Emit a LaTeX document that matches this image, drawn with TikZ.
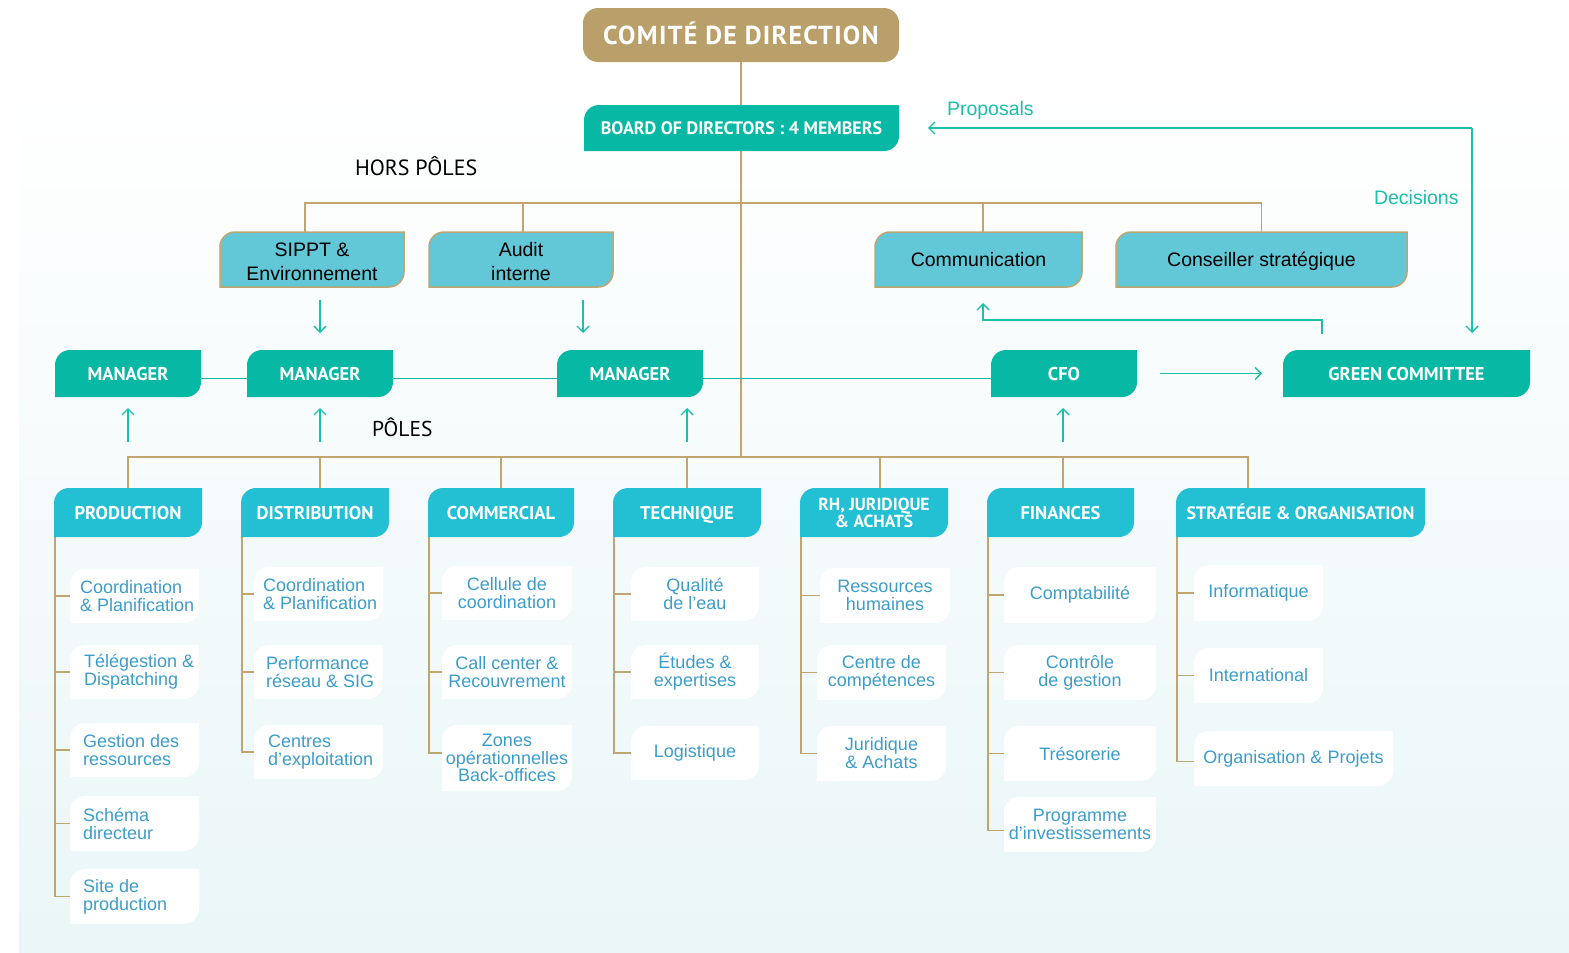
\documentclass[tikz,border=0pt]{standalone}
\usepackage{fontspec}
\setmainfont{Liberation Sans}
\newfontfamily\hfont{PT Sans}
\newfontfamily\cfont[LetterSpace=5]{PT Sans}
\usetikzlibrary{calc,arrows.meta}
\pgfdeclarelayer{bg}
\pgfsetlayers{bg,main}
\definecolor{cGold}{HTML}{C0A56F}
\definecolor{cGoldBox}{HTML}{B9A06B}
\definecolor{cTeal}{HTML}{07B9A5}
\definecolor{cArrow}{HTML}{1BBFAA}
\definecolor{cPole}{HTML}{23BFD3}
\definecolor{cHP}{HTML}{62C8D8}
\definecolor{cLeaf}{HTML}{3C9DCB}
\definecolor{cBgB}{HTML}{EAF6F8}
\newcommand\tlbrbox[8]{%
  \path[#2] (#3,#6) -- (#3,#4+15) arc[start angle=180,end angle=270,radius=15] -- (#5,#4) -- (#5,#6-15) arc[start angle=0,end angle=90,radius=15] -- cycle;
  \node[lbl,#7,minimum width={(#5)-(#3)},minimum height={(#6)-(#4)}] (#1) at ({((#3)+(#5))/2},{((#4)+(#6))/2}) {#8};
}
\tikzset{
  goldline/.style={draw=cGold,line width=1.6pt},
  tline/.style={draw=cTeal,line width=1.6pt},
  tarrow/.style={draw=cArrow,line width=1.4pt,-{Straight Barb[length=6pt,width=12pt]}},
  lbl/.style={inner sep=0pt,outer sep=0pt,align=center},
  hdrbase/.style={text=white,font=\hfont\bfseries\fontsize{18.5}{17}\selectfont},
  hdr/.style={hdrbase,text height=13pt,text depth=0pt},
  hptxt/.style={text=black,font=\fontsize{19.5}{24}\selectfont},
  leaftxt/.style={text=cLeaf,font=\fontsize{18}{18}\selectfont},
  lefttxt/.style={leaftxt,align=left,inner sep=0pt,anchor=west},
  tealbox/.style={fill=cTeal},
  polebox/.style={fill=cPole},
  hpbox/.style={fill=cHP,draw=cGold,line width=1.5pt},
  leafbox/.style={fill=white},
  plain/.style={inner sep=0pt,outer sep=0pt,anchor=west},
}
\begin{document}
\begin{tikzpicture}[x=1pt,y=-1pt]
\useasboundingbox (0,0) rectangle (1569,953);
\begin{pgfonlayer}{bg}
\fill[white] (0,0) rectangle (1569,953);
\shade[top color=white,bottom color=cBgB] (19,85) rectangle (1569,953);
\end{pgfonlayer}

% top
\node[fill=cGoldBox,rounded corners=15pt,minimum width=316pt,minimum height=54pt,inner sep=0pt,text=white,text height=18.5pt,text depth=0pt,font=\cfont\bfseries\fontsize{26}{26}\selectfont] (cdir) at (741,35) {COMITÉ DE DIRECTION};
\tlbrbox{board}{tealbox}{584}{105}{899}{151}{hdr,font=\hfont\bfseries\fontsize{18}{17}\selectfont}{BOARD OF DIRECTORS : 4 MEMBERS}

% hors poles
\tlbrbox{sippt}{hpbox}{220}{232}{404}{287}{hptxt,yshift=-2pt}{SIPPT \&\\Environnement}
\tlbrbox{audit}{hpbox}{429}{232}{613}{287}{hptxt,yshift=-2pt}{Audit\\interne}
\tlbrbox{comm}{hpbox}{875}{232}{1082}{287}{hptxt,text height=14pt,text depth=0pt}{Communication}
\tlbrbox{cons}{hpbox}{1116}{232}{1407}{287}{hptxt,text height=14pt,text depth=0pt}{Conseiller stratégique}

% managers
\tlbrbox{m1}{tealbox}{55}{350}{201}{397}{hdr}{MANAGER}
\tlbrbox{m2}{tealbox}{247}{350}{393}{397}{hdr}{MANAGER}
\tlbrbox{m3}{tealbox}{557}{350}{703}{397}{hdr}{MANAGER}
\tlbrbox{cfo}{tealbox}{991}{350}{1137}{397}{hdr}{CFO}
\tlbrbox{gc}{tealbox}{1283}{350}{1530}{397}{hdr}{GREEN COMMITTEE}

% poles
\tlbrbox{prod}{polebox}{54}{488}{202}{537}{hdr}{PRODUCTION}
\tlbrbox{dist}{polebox}{241}{488}{389}{537}{hdr}{DISTRIBUTION}
\tlbrbox{comr}{polebox}{428}{488}{574}{537}{hdr}{COMMERCIAL}
\tlbrbox{tech}{polebox}{613}{488}{761}{537}{hdr}{TECHNIQUE}
\tlbrbox{rh}{polebox}{800}{488}{948}{537}{hdrbase,font=\hfont\bfseries\fontsize{17.5}{17}\selectfont}{RH, JURIDIQUE\\\& ACHATS}
\tlbrbox{fin}{polebox}{987}{488}{1134}{537}{hdr}{FINANCES}
\tlbrbox{strat}{polebox}{1176}{488}{1425}{537}{hdr,font=\hfont\bfseries\fontsize{18}{17}\selectfont}{STRATÉGIE \& ORGANISATION}

% leaves production
\tlbrbox{p1}{leafbox}{70}{569}{199}{623}{}{}
\tlbrbox{p2}{leafbox}{70}{645}{199}{699}{}{}
\tlbrbox{p3}{leafbox}{70}{723}{199}{777}{}{}
\tlbrbox{p4}{leafbox}{70}{796}{199}{851}{}{}
\tlbrbox{p5}{leafbox}{70}{869}{199}{924}{}{}
\node[lefttxt] (p1t) at ($(p1.west)+(10,0)$) {Coordination\\\& Planification};
\node[lefttxt] (p2t) at ($(p2.west)+(14,0)$) {Télégestion \&\\Dispatching};
\node[lefttxt] (p3t) at ($(p3.west)+(13,0)$) {Gestion des\\ressources};
\node[lefttxt] (p4t) at ($(p4.west)+(13,0)$) {Schéma\\directeur};
\node[lefttxt] (p5t) at ($(p5.west)+(13,0)$) {Site de\\production};
% distribution
\tlbrbox{d1}{leafbox}{254}{567}{383}{621}{}{}
\tlbrbox{d2}{leafbox}{254}{645}{383}{699}{}{}
\tlbrbox{d3}{leafbox}{254}{725}{383}{779}{}{}
\node[lefttxt] (d1t) at ($(d1.west)+(9,0)$) {Coordination\\\& Planification};
\node[lefttxt] (d2t) at ($(d2.west)+(12,0)$) {Performance\\réseau \& SIG};
\node[lefttxt] (d3t) at ($(d3.west)+(14,0)$) {Centres\\d’exploitation};
% commercial
\tlbrbox{c1}{leafbox}{442}{566}{572}{620}{leaftxt}{Cellule de\\coordination}
\tlbrbox{c2}{leafbox}{442}{645}{572}{699}{leaftxt}{Call center \&\\Recouvrement}
\tlbrbox{c3}{leafbox}{442}{725}{572}{791}{leaftxt,font=\fontsize{18}{17.5}\selectfont}{Zones\\opérationnelles\\Back-offices}
% technique
\tlbrbox{t1}{leafbox}{631}{567}{759}{621}{leaftxt}{Qualité\\de l’eau}
\tlbrbox{t2}{leafbox}{631}{645}{759}{699}{leaftxt}{Études \&\\expertises}
\tlbrbox{t3}{leafbox}{631}{726}{759}{780}{leaftxt}{Logistique}
% rh
\tlbrbox{r1}{leafbox}{820}{568}{950}{623}{leaftxt}{Ressources\\humaines}
\tlbrbox{r2}{leafbox}{817}{645}{946}{700}{leaftxt}{Centre de\\compétences}
\tlbrbox{r3}{leafbox}{817}{726}{946}{781}{leaftxt}{Juridique\\\& Achats}
% finances
\tlbrbox{f1}{leafbox}{1004}{567}{1156}{623}{leaftxt}{Comptabilité}
\tlbrbox{f2}{leafbox}{1004}{645}{1156}{700}{leaftxt}{Contrôle\\de gestion}
\tlbrbox{f3}{leafbox}{1004}{726}{1156}{781}{leaftxt}{Trésorerie}
\tlbrbox{f4}{leafbox}{1004}{797}{1156}{852}{leaftxt}{Programme\\d’investissements}
% strategie
\tlbrbox{s1}{leafbox}{1194}{565}{1323}{621}{leaftxt}{Informatique}
\tlbrbox{s2}{leafbox}{1194}{648}{1323}{703}{leaftxt}{International}
\tlbrbox{s3}{leafbox}{1194}{731}{1393}{786}{leaftxt}{Organisation \& Projets}

% labels
\node[plain,text=black,font=\hfont\fontsize{22}{22}\selectfont] (horsp) at (355,166) {HORS PÔLES};
\node[plain,text=black,font=\hfont\fontsize{21.5}{22}\selectfont] (poles) at (372,427) {PÔLES};
\node[plain,text=cArrow,font=\fontsize{19.5}{19}\selectfont] (prop) at (947,110) {Proposals};
\node[plain,text=cArrow,font=\fontsize{19.5}{19}\selectfont] (dec) at (1374,198) {Decisions};

\coordinate (hbar) at (741,203);
\coordinate (pbar) at (741,457);
\coordinate (loop) at (1472,128);

\begin{pgfonlayer}{bg}
\draw[goldline] (cdir.south) -- (pbar);
\draw[goldline] ([xshift=-7pt]sippt.north) |- (hbar);
\draw[goldline] ([xshift=2pt]audit.north) |- (hbar);
\draw[goldline] ([xshift=4.5pt]comm.north) |- (hbar);
\draw[goldline] (cons.north) |- (hbar);
\draw[goldline] (prod.north) |- (pbar);
\draw[goldline] ([xshift=5pt]dist.north) |- (pbar);
\draw[goldline] (comr.north) |- (pbar);
\draw[goldline] (tech.north) |- (pbar);
\draw[goldline] ([xshift=6pt]rh.north) |- (pbar);
\draw[goldline] ([xshift=2.5pt]fin.north) |- (pbar);
\draw[goldline] ([xshift=-52.5pt]strat.north) |- (pbar);
\draw[tline] ($(m1.east)+(0,5)$) -- ($(cfo.west)+(0,5)$);
% trunks
\foreach \n in {p1,p2,p3,p4,p5} \draw[goldline] ([xshift=1pt]prod.south west) |- (\n.west);
\foreach \n in {d1,d2,d3} \draw[goldline] ([xshift=1pt]dist.south west) |- (\n.west);
\foreach \n in {c1,c2} \draw[goldline] ([xshift=1pt]comr.south west) |- (\n.west);
\draw[goldline] ([xshift=1pt]comr.south west) |- ($(c3.west)+(0,-5)$);
\foreach \n in {t1,t2,t3} \draw[goldline] ([xshift=1pt]tech.south west) |- (\n.west);
\foreach \n in {r1,r2,r3} \draw[goldline] ([xshift=1pt]rh.south west) |- (\n.west);
\foreach \n in {f1,f2,f3} \draw[goldline] ([xshift=1pt]fin.south west) |- (\n.west);
\draw[goldline] ([xshift=1pt]fin.south west) |- ($(f4.west)+(0,6)$);
\foreach \n in {s1,s2} \draw[goldline] ([xshift=1pt]strat.south west) |- (\n.west);
\draw[goldline] ([xshift=1pt]strat.south west) |- ($(s3.west)+(0,3)$);
\end{pgfonlayer}

% arrows
\coordinate (ad) at ([xshift=5pt]dist.north);
\coordinate (af) at ([xshift=2.5pt]fin.north);
\coordinate (aa) at ([xshift=-47pt]m3.north);
\draw[tarrow,shorten <=46pt,shorten >=11pt] (prod.north) -- (prod.north |- m1.south);
\draw[tarrow,shorten <=46pt,shorten >=11pt] (ad) -- (ad |- m2.south);
\draw[tarrow,shorten <=46pt,shorten >=11pt] (tech.north) -- (tech.north |- m3.south);
\draw[tarrow,shorten <=46pt,shorten >=11pt] (af) -- (af |- cfo.south);
\draw[tarrow,shorten <=11pt,shorten >=17pt] (m2.north |- sippt.south) -- (m2.north);
\draw[tarrow,shorten <=11pt,shorten >=17pt] (aa |- audit.south) -- (aa);
\draw[tarrow,shorten <=23pt,shorten >=21pt] (cfo.east) -- (gc.west);
\draw[tarrow] ($(gc.north west)+(39,-16)$) |- ($(comm.south)+(4.5,33)$) -- ($(comm.south)+(4.5,16)$);
\draw[tarrow,shorten >=29pt] (loop) -- (board.east);
\draw[tarrow,shorten >=17pt] (loop) -- (loop |- gc.north);
\end{tikzpicture}
\end{document}
